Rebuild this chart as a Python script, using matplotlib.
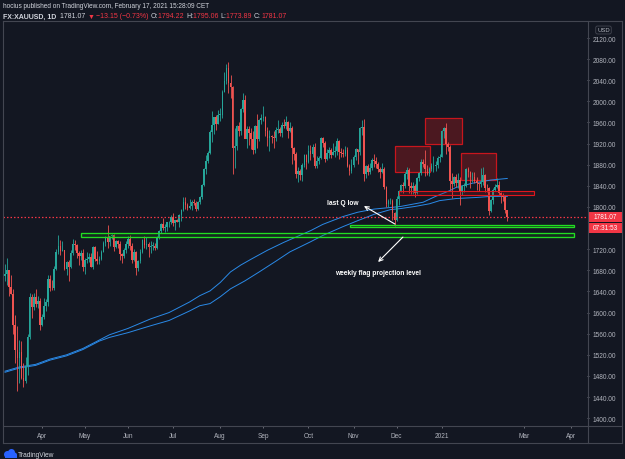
import matplotlib
matplotlib.use('Agg')
import matplotlib.pyplot as plt
import numpy as np
import pandas as pd
from matplotlib.patches import Rectangle, Ellipse
from matplotlib.lines import Line2D

plt.rcParams['font.family'] = ['Liberation Sans', 'DejaVu Sans']

# ---------------- data (FX:XAUUSD daily) ----------------
start_date = '2020-03-06'
end_date = '2021-02-17'
holidays = ['2020-04-10', '2020-12-25', '2021-01-01']

opens = [
 1669,1674,1680,1649,1636,1576,1529,1514,1526,1477,1471,1498,1553,1630,1611,1630,1617,1622,
 1577,1591,1613,1620,1663,1647,1646,1683,1714,1727,1716,1718,1683,1695,1686,1713,1730,1728,1712,1707,1713,
 1687,1700,1702,1705,1686,1725,1702,1697,1701,1715,1731,1744,1733,1745,1746,1725,1735,1729,1710,1708,1719,
 1730,1740,1726,1700,1714,1684,1698,1715,1737,1728,1730,1725,1727,1727,1722,1743,1754,1768,1761,1763,1771,1772,
 1781,1769,1775,1772,1784,1795,1810,1804,1798,1802,1810,1807,1796,1810,1818,1842,1871,1888,1902,1942,1956,1970,1958,
 1975,1975,2018,2038,2063,2035,2028,1911,1915,1954,1944,1985,2002,1929,1947,1940,1929,1908,1954,1929,1964,
 1968,1970,1944,1930,1934,1932,1930,1946,1947,1940,1956,1954,1961,1944,1950,1912,1900,1862,1868,1861,1880,1898,
 1886,1906,1900,1913,1877,1887,1893,1930,1922,1891,1902,1908,1899,1904,1906,1924,1904,1902,1901,1907,1878,1868,
 1879,1894,1909,1904,1949,1951,1862,1877,1866,1873,1889,1887,1881,1872,1866,1871,1837,1806,1811,1811,1788,
 1776,1815,1830,1841,1839,1863,1870,1839,1836,1840,1827,1855,1864,1886,1881,1872,1862,1871,1877,1877,1879,1893,
 1895,1944,1950,1919,1913,1850,1844,1856,1845,1851,1828,1840,1840,1871,1866,1856,1856,1850,1845,1843,
 1848,1860,1836,1835,1793,1814,1833,1838,1842,1826,1823,1818,1794.22]
highs = [
 1692,1703,1681,1671,1645,1595,1575,1548,1547,1505,1516,1560,1637,1635,1637,1645,1632,1627,
 1597,1627,1626,1672,1671,1662,1689,1721,1747,1738,1735,1718,1698,1699,1718,1739,1737,1729,1717,1718,1721,
 1703,1715,1713,1712,1727,1727,1716,1707,1719,1735,1745,1765,1745,1749,1748,1737,1738,1735,1712,1722,1735,
 1745,1746,1731,1720,1716,1700,1721,1740,1745,1744,1733,1736,1734,1732,1745,1757,1769,1779,1768,1771,1774,1785,
 1789,1776,1777,1786,1797,1818,1818,1808,1816,1813,1816,1811,1811,1821,1844,1873,1898,1906,1945,1981,1970,1975,1983,
 1987,2022,2055,2070,2075,2049,2030,1949,1956,1960,1988,2015,2013,1953,1953,1949,1943,1955,1976,1967,1976,
 1992,1973,1952,1945,1937,1944,1951,1965,1952,1960,1966,1973,1963,1960,1954,1913,1904,1875,1872,1883,1900,1900,
 1917,1918,1920,1921,1897,1897,1933,1933,1924,1909,1913,1912,1922,1916,1931,1926,1912,1910,1915,1913,1882,1891,
 1898,1911,1910,1951,1965,1966,1879,1881,1883,1892,1900,1894,1886,1875,1883,1875,1839,1815,1817,1815,1791,
 1820,1832,1843,1848,1866,1875,1874,1848,1848,1844,1857,1867,1891,1890,1907,1880,1875,1884,1896,1887,1896,1901,
 1945,1952,1959,1923,1917,1864,1859,1863,1865,1857,1842,1845,1874,1876,1869,1867,1867,1856,1848,1873,
 1875,1863,1844,1838,1816,1835,1843,1855,1849,1828,1827,1823,1795.06]
lows = [
 1659,1653,1632,1635,1560,1504,1451,1466,1475,1460,1466,1482,1550,1590,1605,1611,1608,1567,
 1574,1587,1603,1612,1640,1642,1643,1680,1711,1709,1716,1680,1672,1659,1684,1709,1719,1703,1691,1700,1679,
 1673,1693,1696,1686,1683,1698,1692,1692,1700,1715,1726,1722,1727,1739,1716,1723,1723,1700,1693,1703,1712,
 1722,1718,1694,1697,1671,1679,1694,1713,1722,1720,1705,1712,1719,1718,1720,1740,1750,1757,1752,1755,1763,1768,
 1764,1757,1771,1763,1774,1793,1797,1795,1796,1794,1803,1793,1794,1806,1815,1839,1863,1883,1900,1923,1939,1946,1957,
 1962,1969,2017,2032,2015,2007,1863,1874,1908,1934,1936,1979,1930,1912,1917,1910,1900,1902,1912,1924,1957,
 1962,1934,1916,1906,1922,1911,1924,1940,1935,1933,1950,1947,1930,1942,1882,1889,1855,1848,1851,1849,1875,1872,
 1883,1889,1895,1874,1874,1882,1891,1913,1885,1889,1892,1893,1898,1895,1899,1891,1895,1894,1897,1876,1860,1864,
 1876,1889,1882,1899,1936,1850,1855,1860,1862,1870,1875,1873,1866,1855,1864,1834,1800,1800,1806,1775,1764,
 1773,1804,1829,1826,1835,1853,1826,1825,1824,1819,1825,1849,1860,1875,1858,1860,1858,1869,1867,1869,1874,1886,
 1894,1931,1901,1906,1833,1817,1839,1838,1836,1803,1822,1828,1837,1856,1836,1847,1845,1832,1830,1837,
 1841,1828,1829,1785,1791,1806,1831,1835,1822,1808,1812,1789,1773.89]
closes = [
 1674,1680,1649,1636,1576,1529,1514,1526,1477,1471,1498,1553,1630,1611,1630,1617,1622,1577,
 1591,1613,1620,1663,1647,1646,1683,1714,1727,1716,1718,1683,1695,1686,1713,1730,1728,1712,1707,1713,1687,
 1700,1702,1705,1686,1725,1702,1697,1701,1715,1731,1744,1733,1745,1746,1725,1735,1729,1710,1708,1719,1730,
 1740,1726,1700,1714,1684,1698,1715,1737,1728,1730,1725,1727,1727,1722,1743,1754,1768,1761,1763,1771,1772,1781,
 1769,1775,1772,1784,1795,1810,1804,1798,1802,1810,1807,1796,1810,1818,1842,1871,1888,1902,1942,1956,1970,1958,1975,
 1975,2018,2038,2063,2035,2028,1911,1915,1954,1944,1985,2002,1929,1947,1940,1929,1908,1954,1929,1964,1968,
 1970,1944,1930,1934,1932,1930,1946,1947,1940,1956,1954,1961,1944,1950,1912,1900,1862,1868,1861,1880,1898,1886,
 1906,1900,1913,1877,1887,1893,1930,1922,1891,1902,1908,1899,1904,1906,1924,1904,1902,1901,1907,1878,1868,1879,
 1894,1909,1904,1949,1951,1862,1877,1866,1873,1889,1887,1881,1872,1866,1871,1837,1806,1811,1811,1788,1776,
 1815,1830,1841,1839,1863,1870,1839,1836,1840,1827,1855,1864,1886,1881,1872,1862,1871,1877,1877,1879,1893,1895,
 1944,1950,1919,1913,1850,1844,1856,1845,1851,1828,1840,1840,1871,1866,1856,1856,1850,1845,1843,1848,
 1860,1836,1835,1793,1814,1833,1838,1842,1826,1823,1818,1794,1781.07]

# moving averages (bar index, price)
ma_fast_idx = [0, 7, 15, 22, 30, 38, 46, 51, 60, 71, 80, 90, 95, 100, 105, 110, 115, 120, 128, 136,
               149, 155, 165, 172, 180, 188, 193, 204, 210, 217, 220, 228, 237, 245]
ma_fast_val = [1489, 1497, 1502, 1512, 1520, 1532, 1548, 1558, 1570, 1588, 1600, 1620, 1632, 1641, 1657,
               1677, 1690, 1701, 1718, 1733, 1755, 1767, 1782, 1790, 1796, 1799, 1801, 1809, 1820, 1831,
               1837, 1845, 1851, 1854]
ma_slow_idx = [0, 7, 15, 22, 30, 38, 46, 51, 60, 71, 80, 90, 95, 100, 105, 110, 117, 124, 132, 139,
               149, 155, 165, 172, 180, 188, 193, 200, 207, 212, 220, 230, 237, 245]
ma_slow_val = [1487, 1495, 1500, 1510, 1518, 1530, 1546, 1553, 1562, 1575, 1585, 1603, 1613, 1617, 1630,
               1645, 1660, 1677, 1697, 1715, 1734, 1746, 1763, 1774, 1786, 1795, 1797, 1801, 1806, 1812,
               1816, 1818, 1820, 1820]

# drawings: (start bar, end bar, low price, high price)
red_zones = [(190.2, 207.3, 1866, 1915), (204.9, 222.9, 1919, 1968), (222.4, 239.5, 1851, 1902)]
red_line_zone = (192.2, 258.0, 1822, 1830)
green_zones = [(168.3, 277.6, 1761.5, 1766.5), (37.0, 277.6, 1744, 1750)]
arrow1 = ((190.2, 1767.7), (175.1, 1801.8))   # tail, head
arrow2 = ((194.1, 1743.0), (182.0, 1695.8))
label1 = (164.9, 1809.4, 'last Q low')
label2 = (182.0, 1676.8, 'weekly flag projection level')

price_ticks = [1400, 1440, 1480, 1520, 1560, 1600, 1640, 1680, 1720, 1800, 1840, 1880,
               1920, 1960, 2000, 2040, 2080, 2120]
time_tick_dates = ['2020-04-01', '2020-05-01', '2020-06-01', '2020-07-01', '2020-08-03', '2020-09-01',
                   '2020-10-01', '2020-11-02', '2020-12-01', '2021-01-04', '2021-03-01', '2021-04-01']
time_tick_labels = ['Apr', 'May', 'Jun', 'Jul', 'Aug', 'Sep', 'Oct', 'Nov', 'Dec', '2021', 'Mar', 'Apr']

header1 = 'hocius published on TradingView.com, February 17, 2021 15:28:09 CET'
countdown = '07:31:53'

# ---------------- styling ----------------
W, H = 625, 460
BG = '#131722'
UP = '#26a69a'
DN = '#ef5350'
RED = '#f23645'
TXT = '#d1d4dc'
AXT = '#b2b5be'
FRAME = '#434651'
MA = '#2a8ae8'
GREEN = '#22dd22'

dates = pd.bdate_range(start_date, end_date)
dates = dates.drop(pd.to_datetime(holidays))
future = pd.bdate_range('2021-02-18', '2021-04-30')
all_dates = dates.append(future)
n = len(dates)
assert n == len(closes) == len(opens) == len(highs) == len(lows), (n, len(closes))
x = np.arange(n)

fig = plt.figure(figsize=(W / 100, H / 100), dpi=100, facecolor=BG)

def fx(px):
    return px / W

def fy(py):
    return 1 - py / H

ax = fig.add_axes([fx(3), fy(427), (587 - 3) / W, (427 - 22) / H], facecolor=BG)
ax.set_xlim(-0.98, 283.9)
ax.set_ylim(1385.2, 2152.2)
for s in ax.spines.values():
    s.set_visible(False)

o = np.array(opens, float); h = np.array(highs, float)
l = np.array(lows, float); c = np.array(closes, float)
cols = np.where(c >= o, UP, DN)

# zones
for x0, x1, p0, p1 in red_zones:
    ax.add_patch(Rectangle((x0, p0), x1 - x0, p1 - p0, facecolor=(0.6, 0.1, 0.12, 0.42),
                           edgecolor='#c8161d', lw=0.9, zorder=1))
x0, x1, p0, p1 = red_line_zone
ax.add_patch(Rectangle((x0, p0), x1 - x0, p1 - p0, facecolor=(0.6, 0.1, 0.12, 0.25),
                       edgecolor='#e0161d', lw=0.8, zorder=4))
for x0, x1, p0, p1 in green_zones:
    ax.add_patch(Rectangle((x0, p0), x1 - x0, p1 - p0, facecolor=(0.1, 0.4, 0.1, 0.25),
                           edgecolor=GREEN, lw=0.95, zorder=4))

# moving averages
ax.plot(ma_slow_idx, ma_slow_val, color=MA, lw=0.7, zorder=2)
ax.plot(ma_fast_idx, ma_fast_val, color=MA, lw=0.7, zorder=2)

# candles
ax.vlines(x, l, h, colors=cols, lw=0.6, zorder=3)
body_lo = np.minimum(o, c)
body_h = np.maximum(np.abs(c - o), 0.8)
ax.bar(x, body_h, bottom=body_lo, width=0.78, color=cols, linewidth=0, zorder=3)

# last price line
last = closes[-1]
ax.axhline(last, color=RED, lw=0.9, ls=(0, (1.2, 1.6)), zorder=5)

# annotations
for tail, head in (arrow1, arrow2):
    ax.annotate('', xy=head, xytext=tail,
                arrowprops=dict(arrowstyle='->', color='white', lw=0.8, mutation_scale=7,
                                shrinkA=0, shrinkB=0), zorder=6)
for lx, ly, s in (label1, label2):
    ax.text(lx, ly, s, color='white', fontsize=4.8, fontweight='bold', ha='center', va='center', zorder=6)

# axes ticks
ax.yaxis.tick_right()
ax.set_yticks(price_ticks)
ax.set_yticklabels([f'{p:.2f}' for p in price_ticks])
ax.tick_params(axis='y', length=1.5, width=0.6, color='#787b86', labelcolor=AXT, labelsize=4.7, pad=2.5)
tpos = [all_dates.get_loc(pd.Timestamp(d)) for d in time_tick_dates]
ax.set_xticks(tpos)
ax.set_xticklabels(time_tick_labels)
ax.tick_params(axis='x', length=1.5, width=0.6, color='#787b86', labelcolor=AXT, labelsize=4.7, pad=2.8)

# frame lines
def fline(x0, y0, x1, y1):
    fig.add_artist(Line2D([fx(x0), fx(x1)], [fy(y0), fy(y1)], color=FRAME, lw=0.8))
fline(3, 22, 622, 22)
fline(3, 444, 622, 444)
fline(3, 22, 3, 444)
fline(622, 22, 622, 444)
fline(3, 427, 622, 427)
fline(587.5, 22, 587.5, 444)

# price label boxes
fig.canvas.draw()
ypix = ax.transData.transform((0, last))[1]
ytop = H - ypix
fig.add_artist(Rectangle((fx(588), fy(ytop + 5)), (622 - 588) / W, 10 / H, facecolor=RED,
                         edgecolor='none', transform=fig.transFigure))
fig.text(fx(605), fy(ytop), f'{last:.2f}', color='white', fontsize=4.7, ha='center', va='center')
fig.add_artist(Rectangle((fx(588), fy(ytop + 16)), (622 - 588) / W, 10 / H, facecolor=RED,
                         edgecolor='none', transform=fig.transFigure))
fig.text(fx(605), fy(ytop + 11), countdown, color='white', fontsize=4.7, ha='center', va='center')

# USD label
fig.text(fx(603.5), fy(31), 'USD', color=AXT, fontsize=4.2, ha='center', va='center',
         bbox=dict(boxstyle='round,pad=0.25,rounding_size=0.3', fc=BG, ec=FRAME, lw=0.6))

# header
r = fig.canvas.get_renderer()
def seq(xp, yp, parts, size):
    for s, col, w in parts:
        t = fig.text(fx(xp), fy(yp), s, color=col, fontsize=size, fontweight=w, ha='left', va='center')
        bb = t.get_window_extent(renderer=r)
        xp = bb.x1

seq(3, 6.5, [(header1, TXT, 'normal')], 4.7)
seq(3, 17, [('FX:XAUUSD, 1D  ', TXT, 'bold'), (f'{last:.2f} ', TXT, 'normal'),
            ('\u25bc ', RED, 'normal'), ('\u221213.15 (\u22120.73%) ', RED, 'normal'),
            ('O:', TXT, 'normal'), (f'{opens[-1]:.2f} ', RED, 'normal'),
            ('H:', TXT, 'normal'), (f'{highs[-1]:.2f} ', RED, 'normal'),
            ('L:', TXT, 'normal'), (f'{lows[-1]:.2f} ', RED, 'normal'),
            ('C:', TXT, 'normal'), (f'{closes[-1]:.2f}', RED, 'normal')], 5.0)

# TradingView logo (small cloud + wordmark)
for cx, cy, rw in ((7.5, 455.5, 7), (11.5, 453.5, 7), (14.5, 456.0, 5)):
    fig.add_artist(Ellipse((fx(cx), fy(cy)), rw / W, rw / H, facecolor='#2962ff',
                           edgecolor='none', transform=fig.transFigure))
fig.add_artist(Rectangle((fx(4.5), fy(459)), 12 / W, 3 / H, facecolor='#2962ff',
                         edgecolor='none', transform=fig.transFigure))
fig.text(fx(18), fy(455.5), 'TradingView', color=TXT, fontsize=4.8, ha='left', va='center')

fig.savefig('out.png', dpi=100, facecolor=BG)
